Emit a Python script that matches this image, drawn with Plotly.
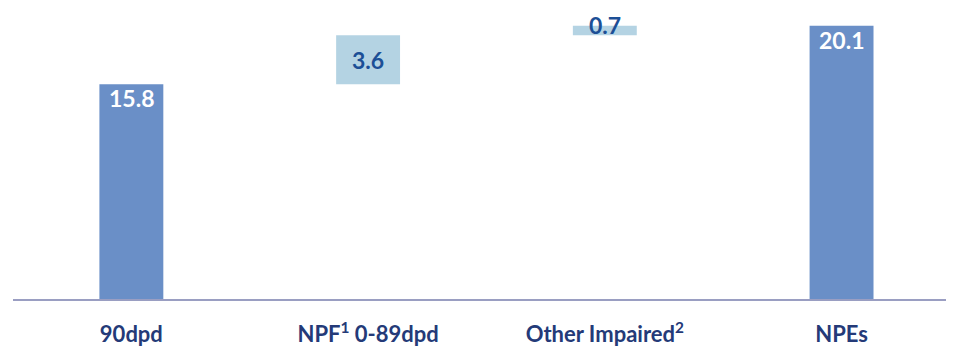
import plotly.graph_objects as go

categories = ["90dpd", "NPF<sup>1</sup> 0-89dpd", "Other Impaired<sup>2</sup>", "NPEs"]
values = [15.8, 3.6, 0.7, 20.1]
measures = ["absolute", "relative", "relative", "total"]
value_labels = ["15.8", "3.6", "0.7", "20.1"]

DARK = "#6a8fc7"
LIGHT = "#b4d3e3"
NAVY = "#243a78"
VAL_DARK = "#1c4f96"

bases = []
running = 0.0
for v, m in zip(values, measures):
    if m == "relative":
        bases.append(running)
        running += v
    else:
        bases.append(0.0)
        running = v
colors = [LIGHT if m == "relative" else DARK for m in measures]

fig = go.Figure()
fig.add_trace(go.Bar(
    x=list(range(len(categories))), y=values, base=bases,
    marker=dict(color=colors, line=dict(width=0)),
    width=0.27, hoverinfo="skip",
))

VFONT = 23
for i, (v, b, m, lab) in enumerate(zip(values, bases, measures, value_labels)):
    top = b + v
    if m == "relative":
        if v > 2:
            fig.add_annotation(x=i, y=b + v / 2, text=f"<b>{lab}</b>", showarrow=False,
                               font=dict(family="Lato", size=VFONT, color=VAL_DARK), yanchor="middle")
        else:
            fig.add_annotation(x=i, y=top, text=f"<b>{lab}</b>", showarrow=False,
                               font=dict(family="Lato", size=VFONT, color=VAL_DARK), yanchor="middle", yshift=1)
    else:
        fig.add_annotation(x=i, y=top, text=f"<b>{lab}</b>", showarrow=False,
                           font=dict(family="Lato", size=VFONT, color="white"), yanchor="middle", yshift=-14)

fig.update_layout(
    width=946, height=339,
    margin=dict(l=5, r=0, t=0, b=48, autoexpand=False),
    paper_bgcolor="white", plot_bgcolor="white",
    showlegend=False,
    xaxis=dict(
        tickmode="array", tickvals=list(range(len(categories))), ticktext=[f"<b>{c}</b>" for c in categories],
        range=[-0.5, 3.475], showgrid=False, zeroline=False,
        showline=True, linecolor="#9a9ec2", linewidth=2,
        ticks="", tickfont=dict(family="Lato", size=22, color=NAVY),
        ticklabelstandoff=15, automargin=False,
    ),
    yaxis=dict(range=[0, 21.4], visible=False, showgrid=False, zeroline=False),
)

fig.write_html("out.html")
